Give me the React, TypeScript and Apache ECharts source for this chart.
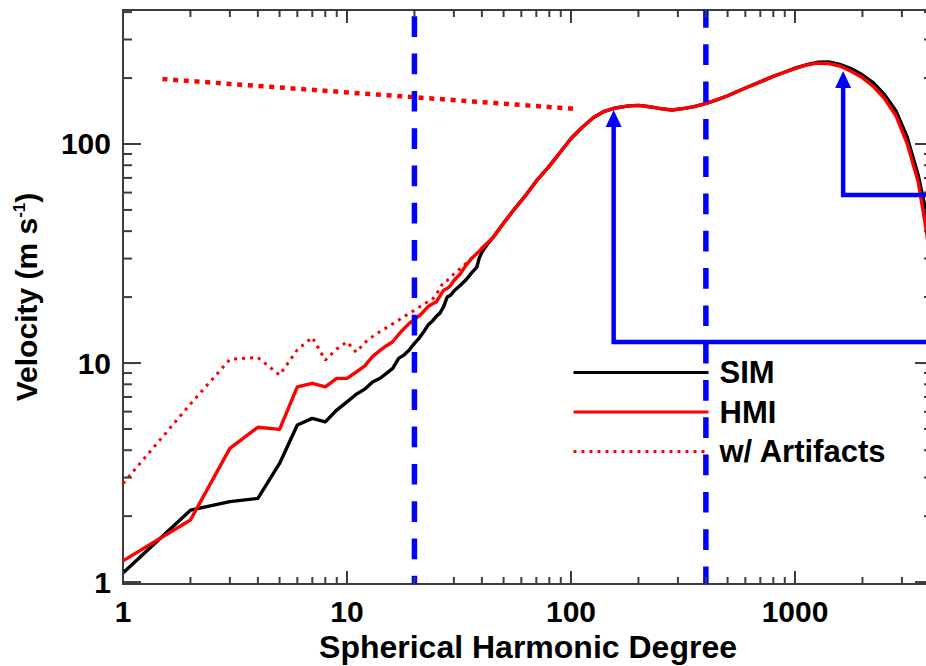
import React, { useEffect, useRef } from "react";
import * as echarts from "echarts";

// ---- axis ranges ----
const X_MIN = 1;
const X_MAX = 4130;
const Y_MIN = 0.98;
const Y_MAX = 409;

// ---- tick values ----
const X_MAJOR = [1, 10, 100, 1000];
const X_MINOR = [2, 3, 4, 5, 6, 7, 8, 9, 20, 30, 40, 50, 60, 70, 80, 90, 200, 300, 400, 500, 600, 700, 800, 900, 2000, 3000, 4000];
const Y_MAJOR = [1, 10, 100];
const Y_MINOR = [2, 3, 4, 5, 6, 7, 8, 9, 20, 30, 40, 50, 60, 70, 80, 90, 200, 300, 400];

// ---- SIM (black) ----
const SIM_X = [1, 2, 3, 4, 5, 6, 7, 8, 9, 10, 11, 12, 13, 14, 15, 16, 17, 18, 19, 20, 21, 22, 23, 24, 25, 26, 27, 28, 29, 30, 32, 34, 36, 37, 38, 39, 40, 42,
  45, 50, 56, 63, 71, 79, 89, 100, 112, 126, 141, 158, 178, 200, 224, 251, 282, 316, 355, 398, 447, 501, 562, 631, 708, 794, 891, 1000, 1122, 1259, 1413, 1585, 1778, 1995, 2239, 2512, 2818, 3162, 3548, 3800, 4130];
const SIM_Y = [1.1, 2.13, 2.33, 2.41, 3.48, 5.21, 5.59, 5.39, 6.1, 6.65, 7.2, 7.6, 8.2, 8.5, 8.97, 9.46, 10.5, 10.9, 11.5, 12.3, 13.0, 13.9, 14.9, 15.5, 16.3, 16.9, 18.1, 20.0, 20.4, 21.3, 22.6, 24.0, 25.8, 26.6, 27.5, 30.3, 32.0, 34.5,
  37.6, 43.6, 50.6, 58.6, 69, 78, 91, 106, 119, 132, 141, 146, 149, 150, 148, 145, 143, 145, 148, 153, 159, 166, 175, 184, 193, 203, 212, 222, 230, 236, 237, 231, 221, 207, 190, 168, 142, 108, 72, 52, 32];

// ---- HMI (red) ----
const HMI_X = [1, 2, 3, 4, 5, 6, 7, 8, 9, 10, 11, 12, 13, 14, 15, 16, 17, 18, 19, 20, 21, 22, 23, 24, 25, 26, 27, 28, 29, 30, 32, 34, 36, 38, 40, 42,
  45, 50, 56, 63, 71, 79, 89, 100, 112, 126, 141, 158, 178, 200, 224, 251, 282, 316, 355, 398, 447, 501, 562, 631, 708, 794, 891, 1000, 1122, 1259, 1413, 1585, 1778, 1995, 2239, 2512, 2818, 3162, 3548, 3800, 4130];
const HMI_Y = [1.25, 1.92, 4.08, 5.09, 4.98, 7.79, 8.08, 7.79, 8.51, 8.51, 9.1, 9.7, 10.7, 11.4, 12.0, 12.5, 13.5, 14.4, 15.2, 15.8, 16.4, 17.2, 18.1, 18.6, 19.0, 20.2, 21.5, 21.9, 22.6, 23.8, 25.5, 28.0, 30.0, 31.6, 33.4, 35.0,
  37.5, 43.5, 50.5, 58.5, 69, 78, 91, 106, 119, 132, 141, 146, 149, 150, 148, 145, 143, 145, 148, 153, 159, 166, 175, 184, 193, 203, 212, 221, 229, 234, 233, 227, 215, 201, 183, 161, 135, 101, 67, 44, 25];

// ---- HMI w/ artifacts (red dotted) ----
const ART_X = [1, 2, 3, 4, 5, 6, 7, 8, 9, 10, 11, 12, 13, 14, 15, 16, 17, 18, 19, 20, 22, 24, 25, 26, 27, 28, 30, 32, 34, 37, 40];
const ART_Y = [2.82, 6.5, 10.4, 10.6, 8.81, 11.5, 13.1, 10.3, 11.6, 12.5, 11.2, 12.4, 13.2, 13.9, 14.5, 15.1, 15.7, 16.3, 16.9, 17.4, 18.6, 19.5, 20.5, 22.0, 23.5, 23.8, 25.5, 27.0, 28.5, 30.8, 33.6];

// ---- upper dotted line ----
const TOP_X = [1.5, 106];
const TOP_Y = [198, 144.5];

// ---- blue annotations ----
const VLINES = [20, 400];
const VLINE_OFFSETS = [31, 3];
const ARROW1_X = [X_MAX, 155, 155];
const ARROW1_Y = [12.47, 12.47, 130.7];
const ARROW2_X = [X_MAX, 1640, 1640];
const ARROW2_Y = [58.5, 58.5, 197];

const FONT = '"Liberation Sans", Arial, Helvetica, sans-serif';
const AXIS_COLOR = "#3c3c3c";
const BLUE = "#0000ff";
const RED = "#ff0000";

const zip = (xs: number[], ys: number[]) => xs.map((x, i) => [x, ys[i]]);

const isPow10 = (v: number) => {
  const l = Math.log10(v);
  return Math.abs(l - Math.round(l)) < 1e-6;
};

export default function App() {
  const ref = useRef<HTMLDivElement>(null);

  useEffect(() => {
    if (!ref.current) return;
    const chart = echarts.init(ref.current, null, { renderer: "svg" });

    const tickData = [
      ...X_MAJOR.map((v) => [v, 1, 0]),
      ...X_MINOR.map((v) => [v, 1, 1]),
      ...Y_MAJOR.map((v) => [1, v, 2]),
      ...Y_MINOR.map((v) => [1, v, 3]),
    ];

    const arrowData = (xs: number[], ys: number[]) =>
      xs.map((x, i) => ({
        value: [x, ys[i]],
        symbol: i === xs.length - 1 ? "triangle" : "none",
        symbolSize: [16, 17],
      }));

    const labelFmt = (v: number) => (isPow10(v) ? String(Math.round(v)) : "");

    const option: any = {
      animation: false,
      backgroundColor: "#ffffff",
      grid: {
        left: 123,
        top: 10,
        right: 12,
        bottom: 82,
        show: true,
        borderColor: AXIS_COLOR,
        borderWidth: 2,
        containLabel: false,
        outerBoundsMode: "none",
      },
      legend: {
        data: ["SIM", "HMI", "w/ Artifacts"],
        orient: "vertical",
        left: 572,
        top: 357,
        itemWidth: 135,
        itemHeight: 32,
        itemGap: 8.5,
        selectedMode: false,
        padding: 0,
        itemStyle: { opacity: 0 },
        lineStyle: { width: 3 },
        textStyle: {
          fontSize: 31,
          fontWeight: "bold",
          color: "#000",
          fontFamily: FONT,
          padding: [0, 0, 0, 6],
        },
      },
      xAxis: {
        type: "log",
        logBase: 10,
        min: X_MIN,
        max: X_MAX,
        axisLine: { show: false },
        axisTick: { show: false },
        splitLine: { show: false },
        minorTick: { show: false },
        axisLabel: {
          formatter: labelFmt,
          fontSize: 30,
          fontWeight: "bold",
          color: "#000",
          fontFamily: FONT,
          margin: 12,
          showMinLabel: true,
          showMaxLabel: true,
        },
        name: "Spherical Harmonic Degree",
        nameLocation: "middle",
        nameGap: 36,
        nameTextStyle: { fontSize: 32, fontWeight: "bold", color: "#000", fontFamily: FONT },
      },
      yAxis: {
        type: "log",
        logBase: 10,
        min: Y_MIN,
        max: Y_MAX,
        axisLine: { show: false },
        axisTick: { show: false },
        splitLine: { show: false },
        minorTick: { show: false },
        axisLabel: {
          formatter: labelFmt,
          fontSize: 30,
          fontWeight: "bold",
          color: "#000",
          fontFamily: FONT,
          margin: 12,
        },
        name: "{a|Velocity (m s}{b|-1}{a|)}",
        nameLocation: "middle",
        nameRotate: 90,
        nameGap: 82,
        nameTextStyle: {
          fontFamily: FONT,
          rich: {
            a: { fontSize: 30, fontWeight: "bold", color: "#000", fontFamily: FONT },
            b: { fontSize: 17, fontWeight: "bold", color: "#000", fontFamily: FONT, verticalAlign: "top" },
          },
        },
      },
      series: [
        {
          name: "SIM",
          type: "line",
          data: zip(SIM_X, SIM_Y),
          symbol: "none",
          silent: true,
          lineStyle: { color: "#000", width: 3.4, join: "round" },
          itemStyle: { color: "#000" },
          z: 3,
        },
        {
          name: "HMI",
          type: "line",
          data: zip(HMI_X, HMI_Y),
          symbol: "none",
          silent: true,
          lineStyle: { color: RED, width: 3.4, join: "round" },
          itemStyle: { color: RED },
          z: 4,
        },
        {
          name: "w/ Artifacts",
          type: "line",
          data: zip(ART_X, ART_Y),
          symbol: "none",
          silent: true,
          lineStyle: { color: RED, width: 3, type: [3, 5] },
          itemStyle: { color: RED },
          z: 5,
        },
        {
          name: "fit",
          type: "line",
          data: zip(TOP_X, TOP_Y),
          symbol: "none",
          silent: true,
          lineStyle: { color: RED, width: 4.5, type: [5, 5.7] },
          itemStyle: { color: RED },
          z: 5,
        },
        ...VLINES.map((v, i) => ({
          name: "vline" + i,
          type: "line",
          data: [
            [v, Y_MAX],
            [v, Y_MIN],
          ],
          symbol: "none",
          silent: true,
          lineStyle: { color: BLUE, width: 5.5, type: [20.7, 16.6], dashOffset: VLINE_OFFSETS[i] },
          itemStyle: { color: BLUE },
          z: 6,
        })),
        {
          name: "arrow1",
          type: "line",
          data: arrowData(ARROW1_X, ARROW1_Y),
          showSymbol: true,
          showAllSymbol: true,
          silent: true,
          lineStyle: { color: BLUE, width: 4.5, join: "miter" },
          itemStyle: { color: BLUE },
          z: 7,
        },
        {
          name: "arrow2",
          type: "line",
          data: arrowData(ARROW2_X, ARROW2_Y),
          showSymbol: true,
          showAllSymbol: true,
          silent: true,
          lineStyle: { color: BLUE, width: 4.5, join: "miter" },
          itemStyle: { color: BLUE },
          z: 7,
        },
        {
          name: "ticks",
          type: "custom",
          silent: true,
          clip: false,
          data: tickData,
          encode: { x: 0, y: 1 },
          z: 10,
          renderItem: (params: any, api: any) => {
            const cs = params.coordSys;
            const kind = api.value(2);
            const style = { stroke: AXIS_COLOR, lineWidth: 2 };
            if (kind < 2) {
              const px = api.coord([api.value(0), 1])[0];
              const len = kind === 0 ? 13 : 7;
              const yb = cs.y + cs.height;
              return {
                type: "group",
                children: [
                  { type: "line", shape: { x1: px, y1: yb, x2: px, y2: yb - len }, style },
                  { type: "line", shape: { x1: px, y1: cs.y, x2: px, y2: cs.y + len }, style },
                ],
              };
            }
            const py = api.coord([1, api.value(1)])[1];
            const len = kind === 2 ? 18 : 9;
            const xr = cs.x + cs.width;
            return {
              type: "group",
              children: [
                { type: "line", shape: { x1: cs.x, y1: py, x2: cs.x + len, y2: py }, style },
                { type: "line", shape: { x1: xr, y1: py, x2: xr - len, y2: py }, style },
              ],
            };
          },
        },
      ],
    };

    chart.setOption(option);
    return () => chart.dispose();
  }, []);

  return (
    <div
      style={{
        position: "fixed",
        left: 0,
        top: 0,
        width: 926,
        height: 666,
        overflow: "hidden",
        background: "#fff",
      }}
    >
      <div ref={ref} style={{ width: 945, height: 666 }} />
    </div>
  );
}
